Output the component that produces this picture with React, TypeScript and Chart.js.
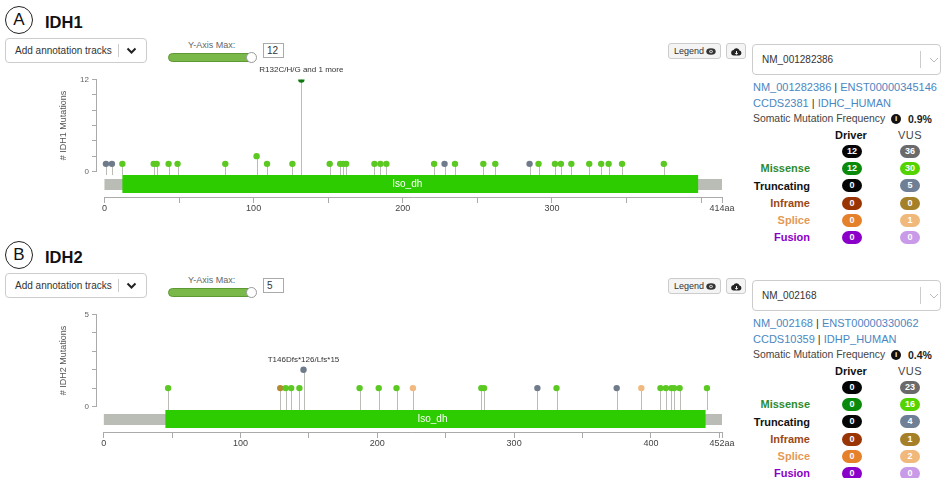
import React, { useEffect, useRef } from "react";
import { Chart, registerables } from "chart.js";
Chart.register(...registerables);

// ---------------- DATA ----------------
const idh1Positions = [1, 5, 12, 33, 35, 43, 49, 81, 102, 109, 126, 132, 151, 158, 160, 162, 181, 185, 189, 221, 228, 235, 254, 262, 285, 291, 302, 306, 313, 325, 333, 338, 347, 375];
const idh1Counts = [1, 1, 1, 1, 1, 1, 1, 1, 2, 1, 1, 12, 1, 1, 1, 1, 1, 1, 1, 1, 1, 1, 1, 1, 1, 1, 1, 1, 1, 1, 1, 1, 1, 1];
const idh1Types = ["trunc", "trunc", "mis", "mis", "mis", "mis", "mis", "mis", "mis", "mis", "mis", "misDrv", "mis", "mis", "mis", "mis", "mis", "mis", "mis", "mis", "trunc", "mis", "mis", "mis", "trunc", "mis", "mis", "mis", "mis", "mis", "mis", "mis", "mis", "mis"];
const idh1XTicks = [0, 50, 100, 150, 200, 250, 300, 350, 400, 414];
const idh1YTicks = [0, 2, 4, 6, 8, 10, 12];

const idh2Positions = [47, 129, 133, 137, 143, 146, 187, 201, 214, 226, 276, 278, 317, 331, 375, 393, 407, 411, 415, 417, 421, 441];
const idh2Counts = [1, 1, 1, 1, 1, 2, 1, 1, 1, 1, 1, 1, 1, 1, 1, 1, 1, 1, 1, 1, 1, 1];
const idh2Types = ["mis", "inf", "mis", "mis", "mis", "trunc", "mis", "mis", "mis", "splice", "mis", "mis", "trunc", "mis", "trunc", "splice", "mis", "mis", "mis", "mis", "mis", "mis"];
const idh2XTicks = [0, 50, 100, 150, 200, 250, 300, 350, 400, 450, 452];
const idh2YTicks = [0, 1, 2, 3, 4, 5];

const rowLabels = ["Missense", "Truncating", "Inframe", "Splice", "Fusion"];
const idh1Driver = [12, 12, 0, 0, 0, 0];
const idh1Vus = [36, 30, 5, 0, 1, 0];
const idh2Driver = [0, 0, 0, 0, 0, 0];
const idh2Vus = [23, 16, 4, 1, 2, 0];

// ---------------- STYLE ----------------
const DOT_COLORS: Record<string, string> = {
  misDrv: "#0b7a0b",
  mis: "#5cc922",
  trunc: "#6f7b8a",
  inf: "#b08a2c",
  splice: "#efb97f",
};
const DRIVER_BADGE = ["#050505", "#0a8a0a", "#050505", "#993404", "#e5802b", "#8B00C9"];
const VUS_BADGE = ["#6a6a6a", "#53D400", "#6f7f95", "#a68028", "#f0b87b", "#c99ae8"];
const ROW_LABEL_COLORS = ["#2e8b2e", "#111", "#9a4a1a", "#e39a55", "#8B00C9"];
const FONT = '"Liberation Sans", Arial, Helvetica, sans-serif';

type Gene = {
  name: string;
  letter: string;
  length: number;
  domain: [number, number];
  domainName: string;
  yMax: number;
  positions: number[];
  counts: number[];
  types: string[];
  xTicks: number[];
  yTicks: number[];
  annotation: string;
  annotationPos: number;
  nm: string;
  enst: string;
  ccds: string;
  uniprot: string;
  freq: string;
  driver: number[];
  vus: number[];
};

const IDH1: Gene = {
  name: "IDH1", letter: "A", length: 414, domain: [12, 398], domainName: "Iso_dh", yMax: 12,
  positions: idh1Positions, counts: idh1Counts, types: idh1Types, xTicks: idh1XTicks, yTicks: idh1YTicks,
  annotation: "R132C/H/G and 1 more", annotationPos: 132,
  nm: "NM_001282386", enst: "ENST00000345146", ccds: "CCDS2381", uniprot: "IDHC_HUMAN", freq: "0.9%",
  driver: idh1Driver, vus: idh1Vus,
};
const IDH2: Gene = {
  name: "IDH2", letter: "B", length: 452, domain: [45, 440], domainName: "Iso_dh", yMax: 5,
  positions: idh2Positions, counts: idh2Counts, types: idh2Types, xTicks: idh2XTicks, yTicks: idh2YTicks,
  annotation: "T146Dfs*126/Lfs*15", annotationPos: 146,
  nm: "NM_002168", enst: "ENST00000330062", ccds: "CCDS10359", uniprot: "IDHP_HUMAN", freq: "0.4%",
  driver: idh2Driver, vus: idh2Vus,
};

// ---------------- CHART ----------------
const CANVAS_W = 745;
const CANVAS_H = 160;
const PAD_TOP = 19.5;
const X_AXIS_H = 23;
const ZERO_GAP = 25.5; // px between value 0 and the x axis line

const lollipopPlugin = {
  id: "lollipop",
  beforeDatasetsDraw(chart: any, _args: any, opts: any) {
    const g: Gene = opts.gene;
    const { ctx, chartArea } = chart;
    const x = chart.scales.x;
    const y = chart.scales.y;
    const bottom = chartArea.bottom;
    ctx.save();
    // y axis line
    ctx.strokeStyle = "#aaa";
    ctx.lineWidth = 1;
    const ax = Math.round(chartArea.left) - 0.5;
    ctx.beginPath();
    ctx.moveTo(ax, y.getPixelForValue(0));
    ctx.lineTo(ax, y.getPixelForValue(g.yMax));
    ctx.stroke();
    // x axis line
    ctx.beginPath();
    ctx.moveTo(x.getPixelForValue(0), Math.round(bottom) + 0.5);
    ctx.lineTo(x.getPixelForValue(g.length), Math.round(bottom) + 0.5);
    ctx.stroke();
    // y title
    ctx.save();
    ctx.translate(64, (y.getPixelForValue(0) + y.getPixelForValue(g.yMax)) / 2);
    ctx.rotate(-Math.PI / 2);
    ctx.fillStyle = "#555";
    ctx.font = `9px ${FONT}`;
    ctx.textAlign = "center";
    ctx.textBaseline = "middle";
    ctx.fillText(`# ${g.name} Mutations`, 0, 0);
    ctx.restore();
    // protein backbone
    const x0 = x.getPixelForValue(0);
    const xL = x.getPixelForValue(g.length);
    ctx.fillStyle = "#BABDB6";
    ctx.fillRect(x0, bottom - 18, xL - x0, 11);
    // domain
    const d0 = x.getPixelForValue(g.domain[0]);
    const d1 = x.getPixelForValue(g.domain[1]);
    ctx.fillStyle = "#2dcc00";
    ctx.fillRect(d0, bottom - 22, d1 - d0, 18);
    ctx.fillStyle = "#fff";
    ctx.font = `10px ${FONT}`;
    ctx.textAlign = "center";
    ctx.textBaseline = "middle";
    ctx.fillText(g.domainName, (d0 + d1) / 2 - 3, bottom - 13);
    // stems
    ctx.strokeStyle = "#BABDB6";
    ctx.lineWidth = 1;
    g.positions.forEach((p, i) => {
      const px = Math.round(x.getPixelForValue(p)) + 0.5;
      ctx.beginPath();
      ctx.moveTo(px, y.getPixelForValue(g.counts[i]));
      ctx.lineTo(px, bottom - 22);
      ctx.stroke();
    });
    // annotation
    const ai = g.positions.indexOf(g.annotationPos);
    ctx.fillStyle = "#333";
    ctx.font = `8px ${FONT}`;
    ctx.textAlign = "center";
    ctx.textBaseline = "alphabetic";
    ctx.fillText(g.annotation, x.getPixelForValue(g.annotationPos), y.getPixelForValue(g.counts[ai]) - 8);
    ctx.restore();
  },
};

function makeConfig(g: Gene): any {
  const plotH = CANVAS_H - X_AXIS_H - PAD_TOP;
  const yMin = -g.yMax * (ZERO_GAP / (plotH - ZERO_GAP));
  return {
    type: "scatter",
    data: {
      datasets: [
        {
          data: g.positions.map((p, i) => ({ x: p, y: g.counts[i] })),
          pointRadius: 3.2,
          pointHoverRadius: 3.2,
          pointBackgroundColor: g.types.map((t) => DOT_COLORS[t]),
          pointBorderColor: g.types.map((t) => DOT_COLORS[t]),
          pointBorderWidth: 0,
        },
      ],
    },
    options: {
      animation: false,
      responsive: false,
      maintainAspectRatio: false,
      events: [],
      layout: { padding: { top: PAD_TOP, right: CANVAS_W - 722, left: 0, bottom: 0 } },
      plugins: {
        legend: { display: false },
        tooltip: { enabled: false },
        lollipop: { gene: g },
      },
      scales: {
        x: {
          type: "linear",
          min: -5,
          max: g.length,
          afterBuildTicks: (s: any) => {
            s.ticks = g.xTicks.map((v) => ({ value: v }));
          },
          afterFit: (s: any) => {
            s.height = X_AXIS_H;
          },
          ticks: {
            autoSkip: false,
            maxRotation: 0,
            padding: 0,
            color: "#444",
            font: { size: 9, family: FONT },
            callback: (v: number) =>
              v === g.length ? `${g.length}aa` : v % 100 === 0 && g.length - v > 20 ? String(v) : "",
          },
          grid: { drawOnChartArea: false, tickLength: 6, color: "#aaa" },
          border: { display: false },
        },
        y: {
          type: "linear",
          min: yMin,
          max: g.yMax,
          afterBuildTicks: (s: any) => {
            s.ticks = g.yTicks.map((v) => ({ value: v }));
          },
          afterFit: (s: any) => {
            s.width = 97;
          },
          ticks: {
            autoSkip: false,
            padding: 3,
            color: "#666",
            font: { size: 8, family: FONT },
            callback: (v: number) => (v === 0 || v === g.yMax ? String(v) : ""),
          },
          grid: { drawOnChartArea: false, tickLength: 5, color: "#aaa" },
          border: { display: false },
        },
      },
    },
    plugins: [lollipopPlugin],
  };
}

function LollipopChart({ g, top }: { g: Gene; top: number }) {
  const ref = useRef<HTMLCanvasElement>(null);
  useEffect(() => {
    const chart = new Chart(ref.current as HTMLCanvasElement, makeConfig(g));
    return () => chart.destroy();
  }, []);
  return (
    <canvas
      ref={ref}
      width={CANVAS_W}
      height={CANVAS_H}
      style={{ position: "absolute", left: 0, top, width: CANVAS_W, height: CANVAS_H }}
    />
  );
}

// ---------------- HTML PARTS ----------------
function Txt({ x, cy, h = 14, size, children, style }: any) {
  return (
    <div
      style={{
        position: "absolute",
        left: x,
        top: cy - h / 2,
        height: h,
        lineHeight: `${h}px`,
        fontSize: size,
        whiteSpace: "nowrap",
        ...style,
      }}
    >
      {children}
    </div>
  );
}

function Header({ g, dy }: { g: Gene; dy: number }) {
  return (
    <>
      <div
        style={{
          position: "absolute", left: 5, top: 6 + dy, width: 28, height: 28, boxSizing: "border-box",
          border: "1.5px solid #222", borderRadius: "50%", textAlign: "center", lineHeight: "25px",
          fontSize: 17, color: "#111",
        }}
      >
        {g.letter}
      </div>
      <Txt x={45} cy={22 + dy} h={20} size={16.5} style={{ fontWeight: "bold", color: "#111" }}>
        {g.name}
      </Txt>
      {/* annotation tracks dropdown */}
      <div
        style={{
          position: "absolute", left: 5, top: 38 + dy, width: 142, height: 25, boxSizing: "border-box",
          border: "1px solid #ccc", borderRadius: 4, background: "#fff",
        }}
      />
      <Txt x={15} cy={50.5 + dy} size={10} style={{ color: "#333" }}>Add annotation tracks</Txt>
      <div style={{ position: "absolute", left: 118, top: 44 + dy, width: 1, height: 13, background: "#ccc" }} />
      <svg style={{ position: "absolute", left: 126, top: 47 + dy }} width="11" height="8">
        <polyline points="1.5,1.5 5.5,5.5 9.5,1.5" stroke="#222" strokeWidth="2" fill="none" />
      </svg>
      {/* y axis max slider */}
      <Txt x={188} cy={44.5 + dy} size={9} style={{ color: "#666" }}>Y-Axis Max:</Txt>
      <div
        style={{
          position: "absolute", left: 168, top: 53 + dy, width: 86, height: 9, boxSizing: "border-box",
          borderRadius: 5, background: "#7bb84a", border: "1px solid #5d9a34",
        }}
      />
      <div
        style={{
          position: "absolute", left: 246, top: 52 + dy, width: 11, height: 11, boxSizing: "border-box",
          borderRadius: "50%", background: "#fff", border: "1px solid #999",
        }}
      />
      <div
        style={{
          position: "absolute", left: 263, top: 43 + dy, width: 21, height: 15, boxSizing: "border-box",
          border: "1px solid #aaa", background: "#fff", fontSize: 10, lineHeight: "13px", paddingLeft: 3, color: "#333",
        }}
      >
        {g.yMax}
      </div>
      {/* legend / download buttons */}
      <div
        style={{
          position: "absolute", left: 668, top: 43 + dy, width: 53, height: 16, boxSizing: "border-box",
          border: "1px solid #ccc", borderRadius: 3, background: "#f4f4f4",
        }}
      />
      <Txt x={674} cy={51 + dy} size={9} style={{ color: "#333" }}>Legend</Txt>
      <svg style={{ position: "absolute", left: 706, top: 47.5 + dy }} width="10" height="7">
        <ellipse cx="5" cy="3.5" rx="4.7" ry="3.2" fill="#333" />
        <circle cx="5" cy="3.5" r="1.7" fill="#f4f4f4" />
        <circle cx="5" cy="3.5" r="0.9" fill="#333" />
      </svg>
      <div
        style={{
          position: "absolute", left: 726, top: 43 + dy, width: 20, height: 16, boxSizing: "border-box",
          border: "1px solid #ccc", borderRadius: 3, background: "#f4f4f4",
        }}
      />
      <svg style={{ position: "absolute", left: 730.5, top: 46.5 + dy }} width="11" height="9" viewBox="0 0 11 9">
        <path d="M3 8.5 H8.3 A2.5 2.5 0 0 0 8.5 3.6 A3.1 3.1 0 0 0 2.6 3.1 A2.7 2.7 0 0 0 3 8.5 Z" fill="#222" />
        <path d="M5.5 4 V7.3 M4.1 5.9 L5.5 7.3 L6.9 5.9" stroke="#f4f4f4" strokeWidth="1" fill="none" />
      </svg>
    </>
  );
}

function Badge({ cx, cy, value, color }: any) {
  return (
    <div
      style={{
        position: "absolute", left: cx - 10, top: cy - 6.5, width: 20, height: 13, borderRadius: 7,
        background: color, color: "#fff", fontSize: 9, fontWeight: "bold", textAlign: "center", lineHeight: "13px",
      }}
    >
      {value}
    </div>
  );
}

function SidePanel({ g, dy }: { g: Gene; dy: number }) {
  const rowY = [151, 168, 185.5, 203, 220, 237];
  const link = { color: "#4b86c2" };
  return (
    <>
      <div
        style={{
          position: "absolute", left: 752, top: 44 + dy, width: 189, height: 31, boxSizing: "border-box",
          border: "1px solid #ccc", borderRadius: 4, background: "#fff",
        }}
      />
      <Txt x={762} cy={59.5 + dy} size={10} style={{ color: "#333" }}>{g.nm}</Txt>
      <div style={{ position: "absolute", left: 920, top: 51 + dy, width: 1, height: 17, background: "#ccc" }} />
      <svg style={{ position: "absolute", left: 929, top: 57 + dy }} width="10" height="6">
        <polyline points="1,1 5,5 9,1" stroke="#bbb" strokeWidth="1" fill="none" />
      </svg>
      <Txt x={753} cy={87 + dy} size={11}>
        <span style={link}>{g.nm}</span>
        <span style={{ color: "#333" }}> | </span>
        <span style={link}>{g.enst}</span>
      </Txt>
      <Txt x={753} cy={103 + dy} size={11}>
        <span style={link}>{g.ccds}</span>
        <span style={{ color: "#333" }}> | </span>
        <span style={link}>{g.uniprot}</span>
      </Txt>
      <Txt x={753} cy={119 + dy} size={10.4} style={{ color: "#444" }}>Somatic Mutation Frequency</Txt>
      <div
        style={{
          position: "absolute", left: 891, top: 114 + dy, width: 10, height: 10, borderRadius: "50%",
          background: "#111", color: "#fff", fontSize: 8, fontWeight: "bold", textAlign: "center", lineHeight: "10px",
        }}
      >
        i
      </div>
      <Txt x={908} cy={119 + dy} size={10.5} style={{ color: "#222", fontWeight: "bold" }}>{g.freq}</Txt>
      <Txt x={835} cy={135 + dy} size={11} style={{ color: "#111", fontWeight: "bold" }}>Driver</Txt>
      <Txt x={898} cy={135 + dy} size={11} style={{ color: "#444", letterSpacing: 0.5 }}>VUS</Txt>
      {rowLabels.map((lab, i) => (
        <div
          key={lab}
          style={{
            position: "absolute", right: 942 - 810, top: rowY[i + 1] - 7 + dy, height: 14, lineHeight: "14px",
            fontSize: 11, fontWeight: "bold", color: ROW_LABEL_COLORS[i], whiteSpace: "nowrap",
          }}
        >
          {lab}
        </div>
      ))}
      {g.driver.map((v, i) => (
        <Badge key={"d" + i} cx={852} cy={rowY[i] + dy} value={v} color={DRIVER_BADGE[i]} />
      ))}
      {g.vus.map((v, i) => (
        <Badge key={"v" + i} cx={910} cy={rowY[i] + dy} value={v} color={VUS_BADGE[i]} />
      ))}
    </>
  );
}

export default function App() {
  return (
    <div
      style={{
        position: "fixed", left: 0, top: 0, width: 942, height: 478, background: "#fff", overflow: "hidden",
        fontFamily: FONT,
      }}
    >
      <Header g={IDH1} dy={0} />
      <LollipopChart g={IDH1} top={60} />
      <SidePanel g={IDH1} dy={0} />
      <Header g={IDH2} dy={235} />
      <LollipopChart g={IDH2} top={295} />
      <SidePanel g={IDH2} dy={236} />
    </div>
  );
}
